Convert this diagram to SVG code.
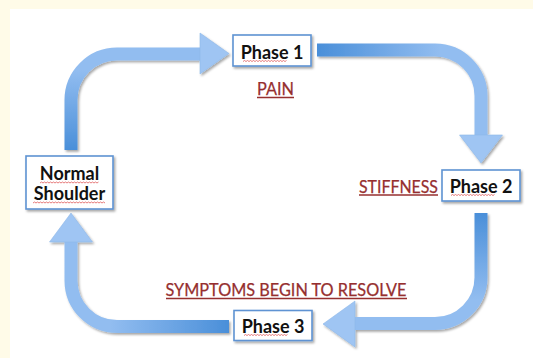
<svg xmlns="http://www.w3.org/2000/svg" width="533" height="358" viewBox="0 0 533 358">
<style>
.band{fill:none;stroke-width:13;stroke-linecap:butt}
.head{fill:#9fc5f3;stroke:#8fb8ea;stroke-width:0.6}
.box{fill:#fff;stroke:#5e93d3;stroke-width:1.6}
.lbl{font-family:Lato,"Liberation Sans",sans-serif;font-weight:bold;font-size:18px;fill:#111;text-anchor:middle}
.red{font-family:Lato,"Liberation Sans",sans-serif;font-size:17px;fill:#962f2f;text-anchor:middle;stroke:#962f2f;stroke-width:0.25}
.ul{stroke:#962f2f;stroke-width:1.3}
.sq{fill:none;stroke:#e05a5a;stroke-width:0.8}
</style>
<defs>
<filter id="sh" x="-20%" y="-20%" width="150%" height="160%">
<feDropShadow dx="1.5" dy="1.8" stdDeviation="1.3" flood-color="#000" flood-opacity="0.35"/>
</filter>
<linearGradient id="g1" gradientUnits="userSpaceOnUse" x1="0" y1="150" x2="0" y2="70">
<stop offset="0" stop-color="#4a8fd9"/><stop offset="1" stop-color="#92bdf0"/>
</linearGradient>
<linearGradient id="g2" gradientUnits="userSpaceOnUse" x1="317" y1="0" x2="440" y2="0">
<stop offset="0" stop-color="#4a8fd9"/><stop offset="1" stop-color="#92bdf0"/>
</linearGradient>
<linearGradient id="g3" gradientUnits="userSpaceOnUse" x1="0" y1="213" x2="0" y2="300">
<stop offset="0" stop-color="#4a8fd9"/><stop offset="1" stop-color="#92bdf0"/>
</linearGradient>
<linearGradient id="g4" gradientUnits="userSpaceOnUse" x1="229" y1="0" x2="110" y2="0">
<stop offset="0" stop-color="#4a8fd9"/><stop offset="1" stop-color="#92bdf0"/>
</linearGradient>
</defs>
<rect width="533" height="358" fill="#fffbe8"/>
<rect x="10" y="9" width="523" height="349" fill="#fff"/>
<g id="connectors" filter="url(#sh)">
<g id="arrow1">
<path class="band" stroke="url(#g1)" d="M71,150 V100 A46,46 0 0 1 117,54 H201"/>
<polygon class="head" points="200,33 229,53.5 200,74"/>
</g>
<g id="arrow2">
<path class="band" stroke="url(#g2)" d="M317,50 H435 A46,46 0 0 1 481,96 V136"/>
<polygon class="head" points="459.5,135 502.5,135 481,163"/>
</g>
<g id="arrow3">
<path class="band" stroke="url(#g3)" d="M481,213 V277.5 A46,46 0 0 1 435,323.5 H354"/>
<polygon class="head" points="355,301 323,324 355,347"/>
</g>
<g id="arrow4">
<path class="band" stroke="url(#g4)" d="M229,326.5 H117 A46,46 0 0 1 71,280.5 V241"/>
<polygon class="head" points="49.5,242 71,213 92.5,242"/>
</g>
</g>
<g id="phase1">
<rect class="box" x="233" y="35" width="78" height="31" filter="url(#sh)"/>
<text class="lbl" x="272" y="59">Phase 1</text>
<path class="sq" d="M243,61.5 l1.5,-1 l1.5,1 l1.5,-1 l1.5,1 l1.5,-1 l1.5,1 l1.5,-1 l1.5,1 l1.5,-1 l1.5,1 l1.5,-1 l1.5,1 l1.5,-1 l1.5,1 l1.5,-1 l1.5,1 l1.5,-1 l1.5,1 l1.5,-1 l1.5,1 l1.5,-1 l1.5,1 l1.5,-1 l1.5,1 l1.5,-1 l1.5,1 l1.5,-1 l1.5,1 l1.5,-1"/>
</g>
<g id="normal">
<rect class="box" x="26" y="156" width="87" height="53" filter="url(#sh)"/>
<text class="lbl" x="69.5" y="180">Normal</text>
<text class="lbl" x="69.5" y="200">Shoulder</text>
<path class="sq" d="M40,183 l1.5,-1 l1.5,1 l1.5,-1 l1.5,1 l1.5,-1 l1.5,1 l1.5,-1 l1.5,1 l1.5,-1 l1.5,1 l1.5,-1 l1.5,1 l1.5,-1 l1.5,1 l1.5,-1 l1.5,1 l1.5,-1 l1.5,1 l1.5,-1 l1.5,1 l1.5,-1 l1.5,1 l1.5,-1 l1.5,1 l1.5,-1 l1.5,1 l1.5,-1 l1.5,1 l1.5,-1 l1.5,1 l1.5,-1 l1.5,1 l1.5,-1 l1.5,1 l1.5,-1 l1.5,1 l1.5,-1 l1.5,1 l1.5,-1"/>
<path class="sq" d="M33,203 l1.5,-1 l1.5,1 l1.5,-1 l1.5,1 l1.5,-1 l1.5,1 l1.5,-1 l1.5,1 l1.5,-1 l1.5,1 l1.5,-1 l1.5,1 l1.5,-1 l1.5,1 l1.5,-1 l1.5,1 l1.5,-1 l1.5,1 l1.5,-1 l1.5,1 l1.5,-1 l1.5,1 l1.5,-1 l1.5,1 l1.5,-1 l1.5,1 l1.5,-1 l1.5,1 l1.5,-1 l1.5,1 l1.5,-1 l1.5,1 l1.5,-1 l1.5,1 l1.5,-1 l1.5,1 l1.5,-1 l1.5,1 l1.5,-1 l1.5,1 l1.5,-1 l1.5,1 l1.5,-1 l1.5,1 l1.5,-1 l1.5,1 l1.5,-1 l1.5,1"/>
</g>
<g id="phase2">
<rect class="box" x="442" y="170" width="78" height="31" filter="url(#sh)"/>
<text class="lbl" x="481" y="193">Phase 2</text>
<path class="sq" d="M451,195.5 l1.5,-1 l1.5,1 l1.5,-1 l1.5,1 l1.5,-1 l1.5,1 l1.5,-1 l1.5,1 l1.5,-1 l1.5,1 l1.5,-1 l1.5,1 l1.5,-1 l1.5,1 l1.5,-1 l1.5,1 l1.5,-1 l1.5,1 l1.5,-1 l1.5,1 l1.5,-1 l1.5,1 l1.5,-1 l1.5,1 l1.5,-1 l1.5,1 l1.5,-1 l1.5,1 l1.5,-1"/>
</g>
<g id="phase3">
<rect class="box" x="234" y="310.5" width="78" height="30" filter="url(#sh)"/>
<text class="lbl" x="273" y="333">Phase 3</text>
<path class="sq" d="M244,335.5 l1.5,-1 l1.5,1 l1.5,-1 l1.5,1 l1.5,-1 l1.5,1 l1.5,-1 l1.5,1 l1.5,-1 l1.5,1 l1.5,-1 l1.5,1 l1.5,-1 l1.5,1 l1.5,-1 l1.5,1 l1.5,-1 l1.5,1 l1.5,-1 l1.5,1 l1.5,-1 l1.5,1 l1.5,-1 l1.5,1 l1.5,-1 l1.5,1 l1.5,-1 l1.5,1 l1.5,-1"/>
</g>
<g id="labels">
<text class="red" x="275.5" y="95" textLength="37" lengthAdjust="spacingAndGlyphs">PAIN</text>
<line class="ul" x1="257" y1="97.5" x2="294" y2="97.5"/>
<text class="red" x="398.5" y="192.5" textLength="79" lengthAdjust="spacingAndGlyphs">STIFFNESS</text>
<line class="ul" x1="359" y1="195" x2="438" y2="195"/>
<text class="red" x="286" y="296" textLength="241" lengthAdjust="spacingAndGlyphs">SYMPTOMS BEGIN TO RESOLVE</text>
<line class="ul" x1="166" y1="298.5" x2="407" y2="298.5"/>
</g>
</svg>
